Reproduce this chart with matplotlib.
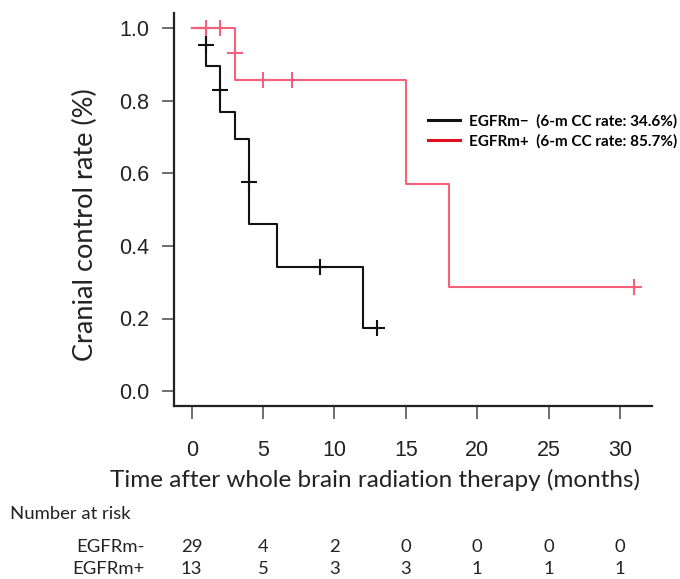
import matplotlib
matplotlib.use("Agg")
import matplotlib.pyplot as plt
from matplotlib.transforms import blended_transform_factory
from matplotlib.lines import Line2D

# Data
neg_times = [0, 1, 2, 3, 4, 6, 12, 13]
neg_surv = [1.0, 0.895, 0.768, 0.693, 0.461, 0.343, 0.175, 0.175]
neg_cens_t = [1, 2, 4, 9, 13]
neg_cens_s = [0.953, 0.83, 0.576, 0.343, 0.175]

pos_times = [0, 3, 15, 18, 31]
pos_surv = [1.0, 0.857, 0.571, 0.286, 0.286]
pos_cens_t = [1, 2, 3, 5, 7, 31]
pos_cens_s = [1.0, 1.0, 0.93, 0.857, 0.857, 0.286]

xticks = [0, 5, 10, 15, 20, 25, 30]
yticks = [0.0, 0.2, 0.4, 0.6, 0.8, 1.0]
risk_neg = [29, 4, 2, 0, 0, 0, 0]
risk_pos = [13, 5, 3, 3, 1, 1, 1]
legend_labels = ["EGFRm\u2212  (6-m CC rate: 34.6%)", "EGFRm+  (6-m CC rate: 85.7%)"]

W, H = 680, 579
fig = plt.figure(figsize=(W / 100, H / 100), dpi=100)
ax = fig.add_axes([174 / W, 1 - 405.7 / H, (652 - 174) / W, (405.7 - 13.3) / H])

black = "#111111"
red_c = "#f5607a"
ax.step(neg_times, neg_surv, where="post", color=black, lw=1.5, zorder=2)
ax.plot(neg_cens_t, neg_cens_s, ls="none", marker="+", ms=11, mew=1.5, color=black, zorder=3)
ax.step(pos_times, pos_surv, where="post", color=red_c, lw=1.5, zorder=4)
ax.plot(pos_cens_t, pos_cens_s, ls="none", marker="+", ms=11, mew=1.5, color=red_c, zorder=5)

ax.set_xlim(-1.24, 32.24)
ax.set_ylim(-0.04, 1.04)
ax.set_xticks(xticks)
ax.set_yticks(yticks)
ax.set_yticklabels([f"{v:.1f}" for v in yticks])
for s in ["top", "right"]:
    ax.spines[s].set_visible(False)
for s in ["left", "bottom"]:
    ax.spines[s].set_linewidth(1.6)
    ax.spines[s].set_color("#222222")
ax.tick_params(axis="both", direction="out", length=9, width=1.2, color="#555555")
ax.tick_params(axis="x", pad=16)
ax.tick_params(axis="y", pad=9)
for lab in ax.get_xticklabels() + ax.get_yticklabels():
    lab.set_fontfamily("Liberation Sans")
    lab.set_fontsize(15.5)
    lab.set_color("#222222")

fig.text(85 / W, 1 - 225 / H, "Cranial control rate (%)", rotation=90, ha="center", va="center",
         fontsize=19.5, family="Lato", color="#222222")

fig.text(375 / W, 1 - 480 / H, "Time after whole brain radiation therapy (months)", ha="center", va="center",
         fontsize=17.5, family="Lato", color="#222222")

# Legend
handles = [Line2D([], [], color=black, lw=2.2), Line2D([], [], color="#e01020", lw=2.2)]
leg = fig.legend(handles, legend_labels, loc="upper left", bbox_to_anchor=(414 / W, 1 - 100 / H),
                 frameon=False, handlelength=2.1, handletextpad=0.6, labelspacing=0.4,
                 prop={"family": "Lato", "weight": "bold", "size": 11})

# Number at risk
fs = 13.3
fig.text(10 / W, 1 - 514 / H, "Number at risk", ha="left", va="center", fontsize=fs, family="Lato", color="#222222")
fig.text(145 / W, 1 - 547 / H, "EGFRm-", ha="right", va="center", fontsize=fs, family="Lato", color="#222222")
fig.text(145 / W, 1 - 569 / H, "EGFRm+", ha="right", va="center", fontsize=fs, family="Lato", color="#222222")
tr = blended_transform_factory(ax.transData, fig.transFigure)
for xv, a, b in zip(xticks, risk_neg, risk_pos):
    ax.text(xv, 1 - 547 / H, str(a), transform=tr, ha="center", va="center", fontsize=fs, family="Lato", color="#222222", clip_on=False)
    ax.text(xv, 1 - 569 / H, str(b), transform=tr, ha="center", va="center", fontsize=fs, family="Lato", color="#222222", clip_on=False)

fig.savefig("out.png", dpi=100)
